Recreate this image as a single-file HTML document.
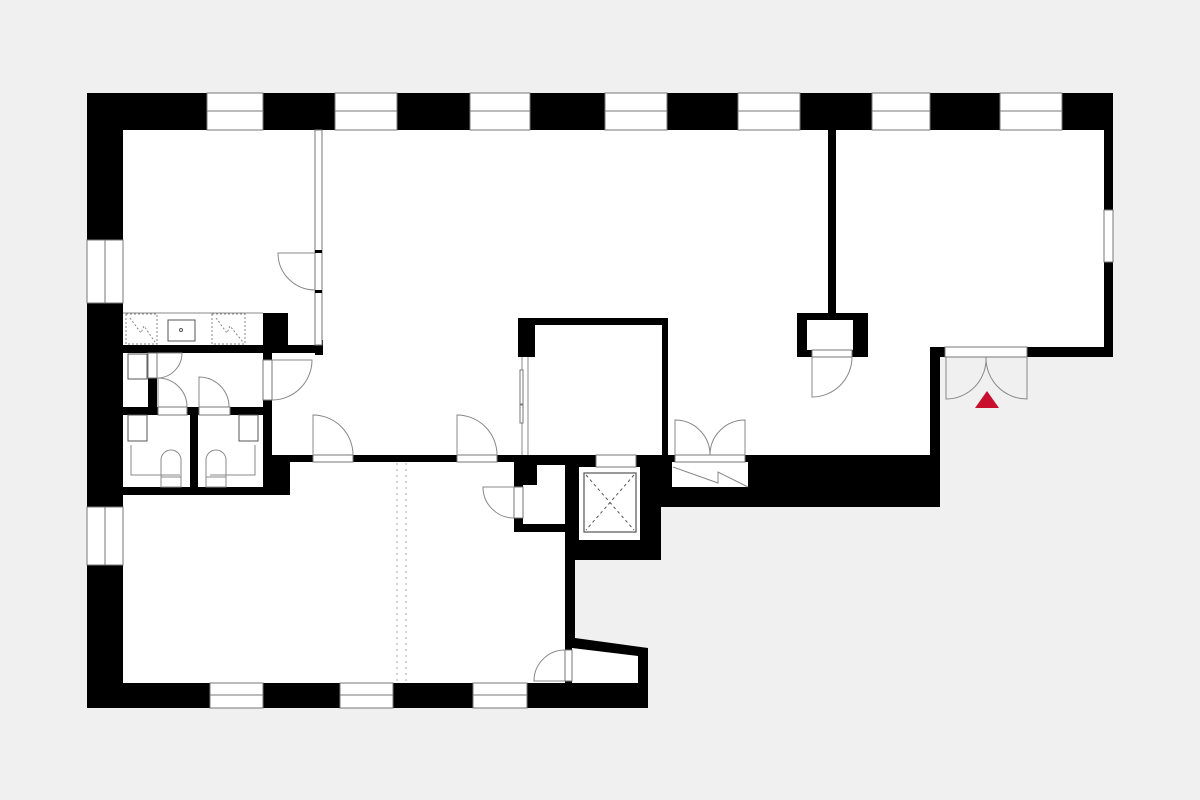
<!DOCTYPE html>
<html><head><meta charset="utf-8"><style>html,body{margin:0;padding:0;background:#f0f0f0}svg{display:block}</style></head>
<body>
<svg width="1200" height="800" viewBox="0 0 1200 800" xmlns="http://www.w3.org/2000/svg">
<rect width="1200" height="800" fill="#f0f0f0"/>
<!-- footprint black -->
<polygon points="87,93 1113,93 1113,357 940,357 940,507 661,507 661,560 575,560 575,638 648,648 648,708 87,708" fill="#000"/>
<!-- rooms white -->
<g fill="#fff">
<rect x="123" y="130" width="981" height="217"/>
<rect x="272" y="347" width="658" height="108"/>
<rect x="123" y="353" width="140" height="134"/>
<rect x="123" y="462" width="442" height="221"/>
<rect x="579" y="467" width="61" height="73"/>
<rect x="672" y="462" width="76" height="25"/>
<polygon points="572,648 638,656 638,683 572,683"/>
</g>
<!-- interior walls -->
<g fill="#000">
<rect x="123" y="345" width="199" height="8"/>
<rect x="263" y="313" width="25" height="40"/>
<rect x="315" y="340" width="8" height="15"/>
<rect x="263" y="353" width="9" height="109"/>
<rect x="123" y="407" width="149" height="8"/>
<rect x="148" y="378" width="9" height="37"/>
<rect x="190" y="407" width="8" height="80"/>
<rect x="123" y="487" width="167" height="8"/>
<rect x="263" y="455" width="27" height="40"/>
<rect x="263" y="455" width="302" height="7"/>
<rect x="518" y="318" width="150" height="7"/>
<rect x="662" y="318" width="6" height="140"/>
<rect x="518" y="318" width="17" height="39"/>
<rect x="514" y="455" width="51" height="77"/>
<rect x="828" y="130" width="8" height="183"/>
<rect x="797" y="313" width="71" height="44"/>
<rect x="661" y="455" width="279" height="7"/>
</g>
<g fill="#fff">
<rect x="523" y="485" width="42" height="39"/>
<rect x="537" y="465" width="28" height="20"/>
<rect x="807" y="320" width="46" height="30"/>
</g>
<!-- glass partition -->
<rect x="315" y="130" width="7" height="215" fill="#fff" stroke="#777" stroke-width="1"/>
<rect x="315" y="250" width="7" height="3" fill="#000"/>
<rect x="315" y="290" width="7" height="3" fill="#000"/>
<!-- windows -->
<g fill="#fff" stroke="#777" stroke-width="1">
<rect x="207" y="93" width="56" height="37"/><rect x="335" y="93" width="62" height="37"/>
<rect x="470" y="93" width="60" height="37"/><rect x="605" y="93" width="62" height="37"/>
<rect x="738" y="93" width="62" height="37"/><rect x="872" y="93" width="58" height="37"/>
<rect x="1000" y="93" width="62" height="37"/>
<rect x="87" y="240" width="36" height="63"/><rect x="87" y="507" width="36" height="58"/>
<rect x="1104" y="210" width="9" height="52"/>
<rect x="210" y="683" width="53" height="25"/><rect x="340" y="683" width="53" height="25"/>
<rect x="473" y="683" width="54" height="25"/>
</g>
<g stroke="#777" stroke-width="1">
<line x1="207" y1="111" x2="263" y2="111"/><line x1="335" y1="111" x2="397" y2="111"/>
<line x1="470" y1="111" x2="530" y2="111"/><line x1="605" y1="111" x2="667" y2="111"/>
<line x1="738" y1="111" x2="800" y2="111"/><line x1="872" y1="111" x2="930" y2="111"/>
<line x1="1000" y1="111" x2="1062" y2="111"/>
<line x1="105" y1="240" x2="105" y2="303"/><line x1="105" y1="507" x2="105" y2="565"/>
<line x1="210" y1="695" x2="263" y2="695"/><line x1="340" y1="695" x2="393" y2="695"/>
<line x1="473" y1="695" x2="527" y2="695"/>
</g>
<!-- door openings -->
<g fill="#fff" stroke="#777" stroke-width="1">
<rect x="313" y="455" width="40" height="7"/><rect x="457" y="455" width="40" height="7"/>
<rect x="263" y="360" width="9" height="40"/>
<rect x="514" y="487" width="9" height="31"/>
<rect x="565" y="650" width="7" height="31"/>
<rect x="812" y="350" width="40" height="7"/>
<rect x="945" y="347" width="82" height="10"/>
<rect x="675" y="455" width="70" height="7"/>
<rect x="596" y="455" width="40" height="12"/>
<rect x="158" y="407" width="29" height="8"/><rect x="199" y="407" width="31" height="8"/>
<rect x="148" y="353" width="9" height="25"/>
</g>
<!-- door swings -->
<g fill="none" stroke="#888" stroke-width="1">
<path d="M315,253 L278,253 A37,37 0 0 0 315,290"/>
<path d="M272,360 L312,360 A40,40 0 0 1 272,400"/>
<path d="M313,455 L313,415 A40,40 0 0 1 353,455"/>
<path d="M457,455 L457,415 A40,40 0 0 1 497,455"/>
<path d="M157,353 L182,353 A25,25 0 0 1 157,378"/>
<path d="M158,407 L158,378 A29,29 0 0 1 187,407"/>
<path d="M199,407 L199,377 A30,30 0 0 1 229,407"/>
<path d="M514,487 L483,487 A31,31 0 0 0 514,518"/>
<path d="M675,455 L675,420 A35,35 0 0 1 710,455"/>
<path d="M745,455 L745,420 A35,35 0 0 0 710,455"/>
<path d="M812,357 L812,397 A40,40 0 0 0 852,357"/>
<path d="M946,357 L946,399 A40,40 0 0 0 986,357"/>
<path d="M1027,357 L1027,399 A41,41 0 0 1 986,357"/>
<path d="M565,681 L534,681 A31,31 0 0 1 565,650"/>
<line x1="522" y1="357" x2="522" y2="455"/><line x1="528" y1="357" x2="528" y2="455"/>
<path d="M673,467 L718,483 L718,472 L748,487"/>
</g>
<rect x="520" y="370" width="3" height="34" fill="#fff" stroke="#777"/>
<rect x="520" y="405" width="3" height="18" fill="#fff" stroke="#777"/>
<!-- elevator -->
<rect x="584" y="473" width="52" height="59" fill="none" stroke="#555" stroke-width="1.2"/>
<g stroke="#555" stroke-dasharray="3,3"><line x1="586" y1="475" x2="634" y2="530"/><line x1="634" y1="475" x2="586" y2="530"/></g>
<!-- dotted divider -->
<g stroke="#aaa" stroke-dasharray="2,4"><line x1="397" y1="463" x2="397" y2="683"/><line x1="406" y1="463" x2="406" y2="683"/></g>
<!-- vanity -->
<g fill="none" stroke="#888" stroke-dasharray="2,2">
<rect x="126" y="314" width="31" height="30"/><rect x="212" y="314" width="33" height="30"/>
<path d="M130,318 L141,333 L144,326 L155,342"/><path d="M216,318 L227,333 L230,326 L243,342"/>
</g>
<line x1="123" y1="313" x2="263" y2="313" stroke="#888"/>
<rect x="168" y="320" width="27" height="21" fill="#fff" stroke="#555"/>
<circle cx="181" cy="330" r="1.5" fill="none" stroke="#555"/>
<!-- sinks & toilets -->
<g fill="#fff" stroke="#555">
<rect x="128" y="354" width="19" height="25"/>
<rect x="128" y="415" width="19" height="26"/>
<rect x="239" y="415" width="19" height="26"/>
</g>
<g fill="none" stroke="#888">
<path d="M131,445 L131,475 L180,475"/><path d="M255,445 L255,475 L210,475"/>
<path d="M161,482 L161,460 A10,10 0 0 1 181,460 L181,482"/>
<path d="M206,482 L206,460 A10,10 0 0 1 226,460 L226,482"/>
<rect x="161" y="477" width="20" height="10"/><rect x="206" y="477" width="20" height="10"/>
</g>
<!-- entrance marker -->
<polygon points="975,408 987,391 999,408" fill="#c8102e"/>
</svg>
</body></html>
